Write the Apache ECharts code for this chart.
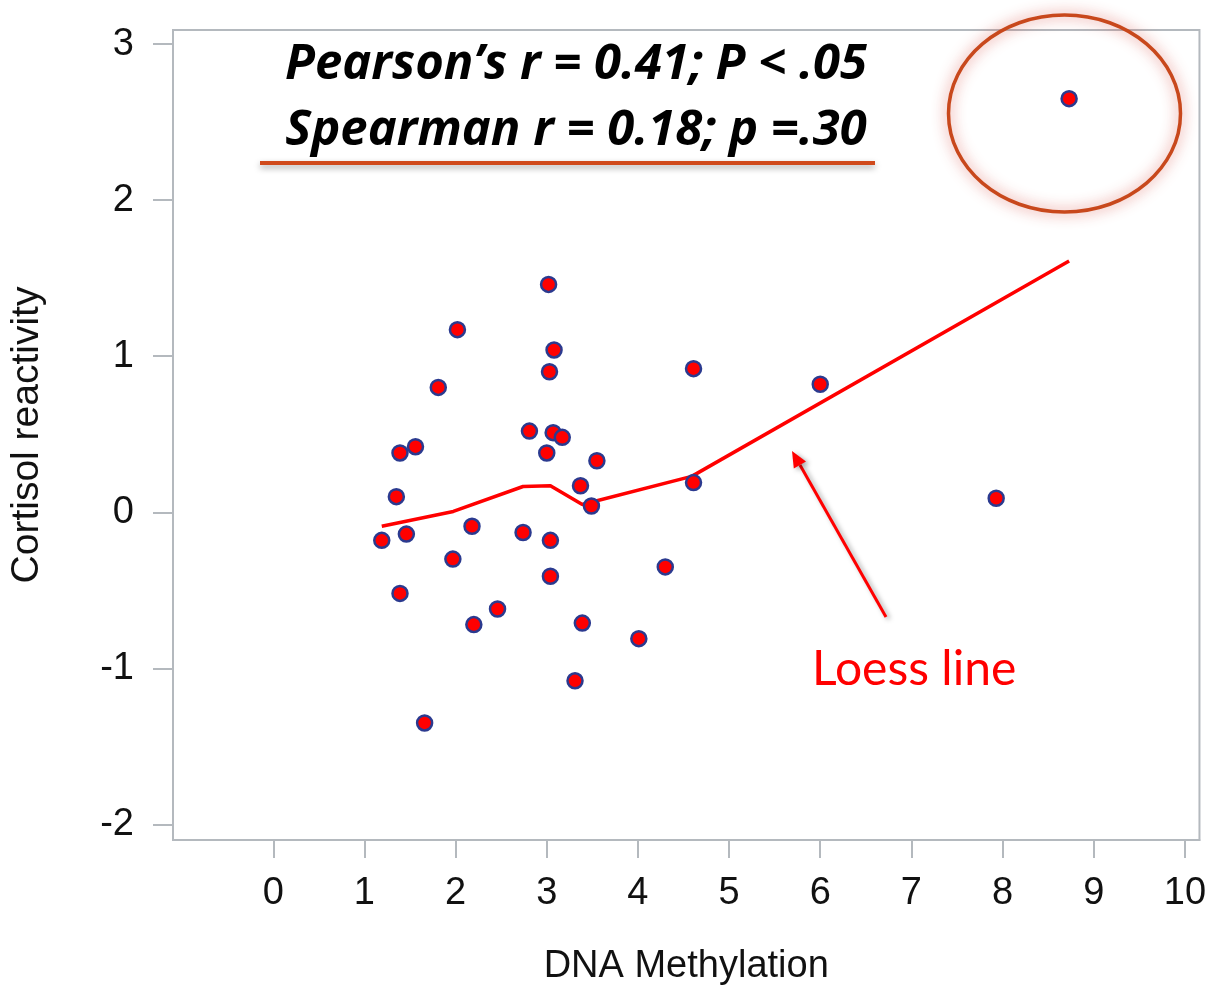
<!DOCTYPE html>
<html>
<head>
<meta charset="utf-8">
<script src="https://cdn.jsdelivr.net/npm/echarts@6/dist/echarts.min.js"></script>
<style>
html,body{margin:0;padding:0;background:#fff;}
#chart{width:1209px;height:991px;}
</style>
</head>
<body>
<div id="chart"></div>
<script>
// ---- data ----
const methylation = [1.19,1.35,1.39,1.39,1.46,1.56,1.66,1.81,1.97,2.02,2.18,2.20,2.46,2.74,2.81,3.00,3.02,3.03,3.04,3.04,3.08,3.07,3.17,3.31,3.37,3.39,3.49,3.55,4.01,4.30,4.61,4.61,6.00,7.93,8.73];
const cortisol    = [-0.18,0.10,0.38,-0.52,-0.14,0.42,-1.35,0.80,-0.30,1.17,-0.09,-0.72,-0.62,-0.13,0.52,0.38,1.46,0.90,-0.18,-0.41,1.04,0.51,0.48,-1.08,0.17,-0.71,0.04,0.33,-0.81,-0.35,0.92,0.19,0.82,0.09,2.65];
const loessX = [1.19,1.975,2.74,3.04,3.39,4.59,8.73];
const loessY = [-0.09,0.005,0.165,0.17,0.05,0.23,1.61];
const xTicks = [0,1,2,3,4,5,6,7,8,9,10];
const yTicks = [-2,-1,0,1,2,3];
const statLine1 = 'Pearson\u2019s r = 0.41; P < .05';
const statLine2 = 'Spearman r = 0.18; p =.30';
const loessLabel = 'Loess line';
const xTitle = 'DNA Methylation';
const yTitle = 'Cortisol reactivity';

const axisGrey = '#b4b9be';
const chart = echarts.init(document.getElementById('chart'), null, {renderer:'canvas'});

const scatterData = methylation.map((x,i)=>[x,cortisol[i]]);
const loessData = loessX.map((x,i)=>[x,loessY[i]]);

const statFont = 'italic bold 49px "Open Sans", Lato, sans-serif';

const option = {
  animation:false,
  backgroundColor:'#ffffff',
  grid:{left:172, top:30, right:9, bottom:151, show:true, borderColor:axisGrey, borderWidth:2, backgroundColor:'transparent'},
  xAxis:{
    type:'value', min:-1.1, max:10.16,
    axisLine:{show:true, onZero:false, lineStyle:{color:axisGrey, width:2}},
    axisTick:{show:true, customValues:xTicks, length:18, lineStyle:{color:axisGrey, width:2}},
    axisLabel:{show:true, customValues:xTicks, fontSize:38, fontFamily:'Liberation Sans, Arial', color:'#111', margin:35},
    splitLine:{show:false},
    name:xTitle, nameLocation:'middle', nameGap:108,
    nameTextStyle:{fontSize:38, fontFamily:'Liberation Sans, Arial', color:'#111'}
  },
  yAxis:{
    type:'value', min:-2.1, max:3.09,
    axisLine:{show:true, onZero:false, lineStyle:{color:axisGrey, width:2}},
    axisTick:{show:true, customValues:yTicks, length:20, lineStyle:{color:axisGrey, width:2}},
    axisLabel:{show:true, customValues:yTicks, fontSize:38, fontFamily:'Liberation Sans, Arial', color:'#111', margin:39},
    splitLine:{show:false},
    name:yTitle, nameLocation:'middle', nameGap:126, nameRotate:90,
    nameTextStyle:{fontSize:39, fontFamily:'Liberation Sans, Arial', color:'#111'}
  },
  series:[
    {
      type:'line', data:loessData, showSymbol:false, symbol:'none',
      lineStyle:{color:'#ff0000', width:3.5}, z:2, silent:true
    },
    {
      type:'scatter', data:scatterData, symbol:'circle', symbolSize:15,
      itemStyle:{color:'#ff0000', borderColor:'#2b3a8f', borderWidth:2.5, opacity:1}, z:3
    }
  ],
  graphic:[
    {type:'text', x:576, y:65, z:10,
      style:{text:statLine1, fill:'#000', font:statFont, align:'center', verticalAlign:'middle'}},
    {type:'text', x:576, y:131, z:10,
      style:{text:statLine2, fill:'#000', font:statFont, align:'center', verticalAlign:'middle'}},
    {type:'rect', shape:{x:260, y:161, width:615, height:4}, z:9,
      style:{fill:'#d04a1c', shadowColor:'rgba(0,0,0,0.35)', shadowBlur:6, shadowOffsetY:3}},
    {type:'ellipse', shape:{cx:1064.5, cy:113.5, rx:116, ry:98.5}, z:9,
      style:{fill:'none', stroke:'#c8481c', lineWidth:3.5, shadowColor:'rgba(215,80,70,0.85)', shadowBlur:14}},
    {type:'line', shape:{x1:886, y1:617, x2:800, y2:465}, z:9,
      style:{stroke:'#ff0000', lineWidth:3, shadowColor:'rgba(0,0,0,0.35)', shadowBlur:5, shadowOffsetX:3, shadowOffsetY:2}},
    {type:'polygon', shape:{points:[[792,451],[806,461.5],[793.8,468.4]]}, z:9,
      style:{fill:'#ff0000', shadowColor:'rgba(0,0,0,0.35)', shadowBlur:5, shadowOffsetX:3, shadowOffsetY:2}},
    {type:'text', x:812, y:670, z:10,
      style:{text:loessLabel, fill:'#ff0000', font:'48px Lato, "Open Sans", sans-serif', align:'left', verticalAlign:'middle'}}
  ]
};
chart.setOption(option);
</script>
</body>
</html>
